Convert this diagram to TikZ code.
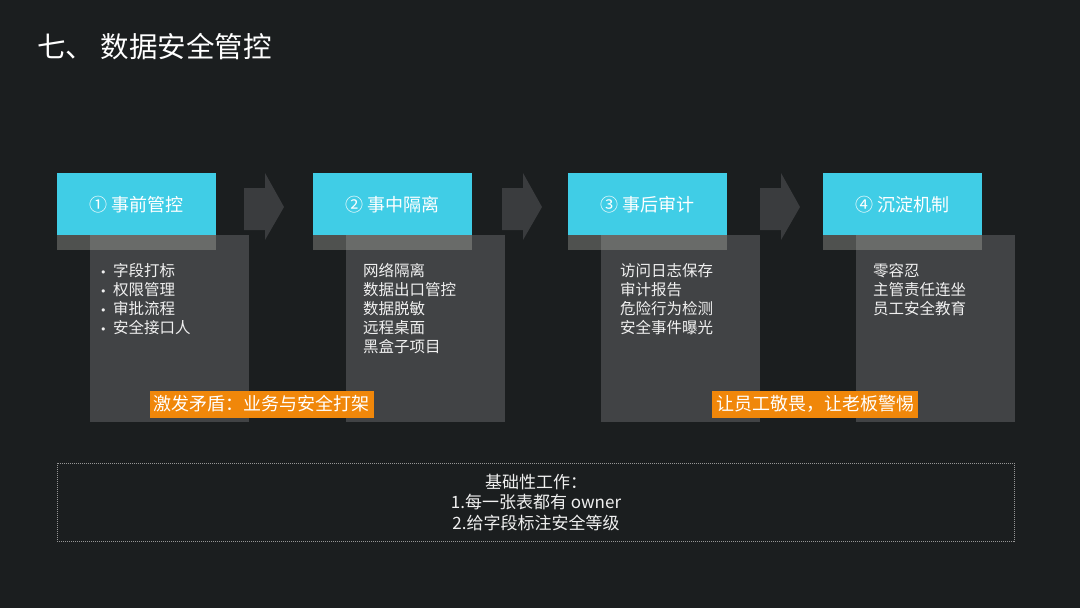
\documentclass[tikz,border=0pt]{standalone}
\usepackage{fontspec}
\setmainfont{Noto Sans CJK SC}
\newfontfamily\bulfont{DejaVu Sans}
\definecolor{bg}{RGB}{27,30,31}
\definecolor{cyanbox}{RGB}{64,205,230}
\definecolor{graybox}{RGB}{65,67,69}
\definecolor{arrowgray}{RGB}{58,60,62}
\definecolor{orangelab}{RGB}{240,135,10}
\definecolor{txt}{RGB}{240,240,240}
\definecolor{bandc}{RGB}{200,200,190}
\definecolor{dashc}{RGB}{150,150,150}
\tikzset{
  panel/.style={fill=graybox},
  headbox/.style={fill=cyanbox, inner sep=0pt, minimum width=159pt, minimum height=62pt, text=white, font=\fontsize{18}{21}\selectfont},
  band/.style={fill=bandc, fill opacity=0.3},
  blockarrow/.style={fill=arrowgray},
  item/.style={anchor=base west, inner sep=0pt, text=txt, font=\fontsize{15.5}{18}\selectfont},
  warn/.style={fill=orangelab, text=white, inner xsep=4pt, inner ysep=0pt, minimum height=27pt, font=\fontsize{18}{21}\selectfont},
  basebox/.style={draw=dashc, line width=0.6pt, dash pattern=on 1pt off 1pt},
}
\newcommand{\bul}{\makebox[13pt][l]{{\bulfont\fontsize{11}{12}\selectfont •}}}
\begin{document}
\begin{tikzpicture}[x=1pt,y=-1pt]
\fill[bg] (0,0) rectangle (1080,608);
\useasboundingbox (0,0) rectangle (1080,608);

\node[anchor=west, inner sep=0pt, text=white, font=\fontsize{28.5}{32}\selectfont] (title) at (37,47) {七、 数据安全管控};

% gray panels
\foreach \x in {57,313,568,823}{
  \fill[panel] (\x+33,235) rectangle (\x+192,422);
}
% block arrows
\foreach \a in {244,502,760}{
  \fill[blockarrow] (\a,188) -- (\a+21,188) -- (\a+21,173) -- (\a+40,207) -- (\a+21,240) -- (\a+21,230) -- (\a,230) -- cycle;
}
% headers
\node[headbox, anchor=north west] (h1) at (57,173) {① 事前管控};
\node[headbox, anchor=north west] (h2) at (313,173) {② 事中隔离};
\node[headbox, anchor=north west] (h3) at (568,173) {③ 事后审计};
\node[headbox, anchor=north west] (h4) at (823,173) {④ 沉淀机制};
\foreach \x in {57,313,568,823}{
  \fill[band] (\x,235) rectangle (\x+159,250);
}

% lists
\node[item] (a1) at (100,276) {\bul 字段打标};
\node[item] (a2) at (100,295) {\bul 权限管理};
\node[item] (a3) at (100,314) {\bul 审批流程};
\node[item] (a4) at (100,333) {\bul 安全接口人};

\node[item] (b1) at (363,276) {网络隔离};
\node[item] (b2) at (363,295) {数据出口管控};
\node[item] (b3) at (363,314) {数据脱敏};
\node[item] (b4) at (363,333) {远程桌面};
\node[item] (b5) at (363,352) {黑盒子项目};

\node[item] (c1) at (620,276) {访问日志保存};
\node[item] (c2) at (620,295) {审计报告};
\node[item] (c3) at (620,314) {危险行为检测};
\node[item] (c4) at (620,333) {安全事件曝光};

\node[item] (d1) at (873,276) {零容忍};
\node[item] (d2) at (873,295) {主管责任连坐};
\node[item] (d3) at (873,314) {员工安全教育};

% orange labels
\node[warn] (w1) at (261.5,404) {激发矛盾：业务与安全打架};
\node[warn] (w2) at (815,404) {让员工敬畏，让老板警惕};

% base box
\draw[basebox] (57,463) rectangle (1014,541);
\node[align=center, text=txt, inner sep=0pt, font=\fontsize{17}{20.5}\selectfont] (base) at (536,502.5) {基础性工作：\\1.每一张表都有 owner\\2.给字段标注安全等级};
\end{tikzpicture}
\end{document}
